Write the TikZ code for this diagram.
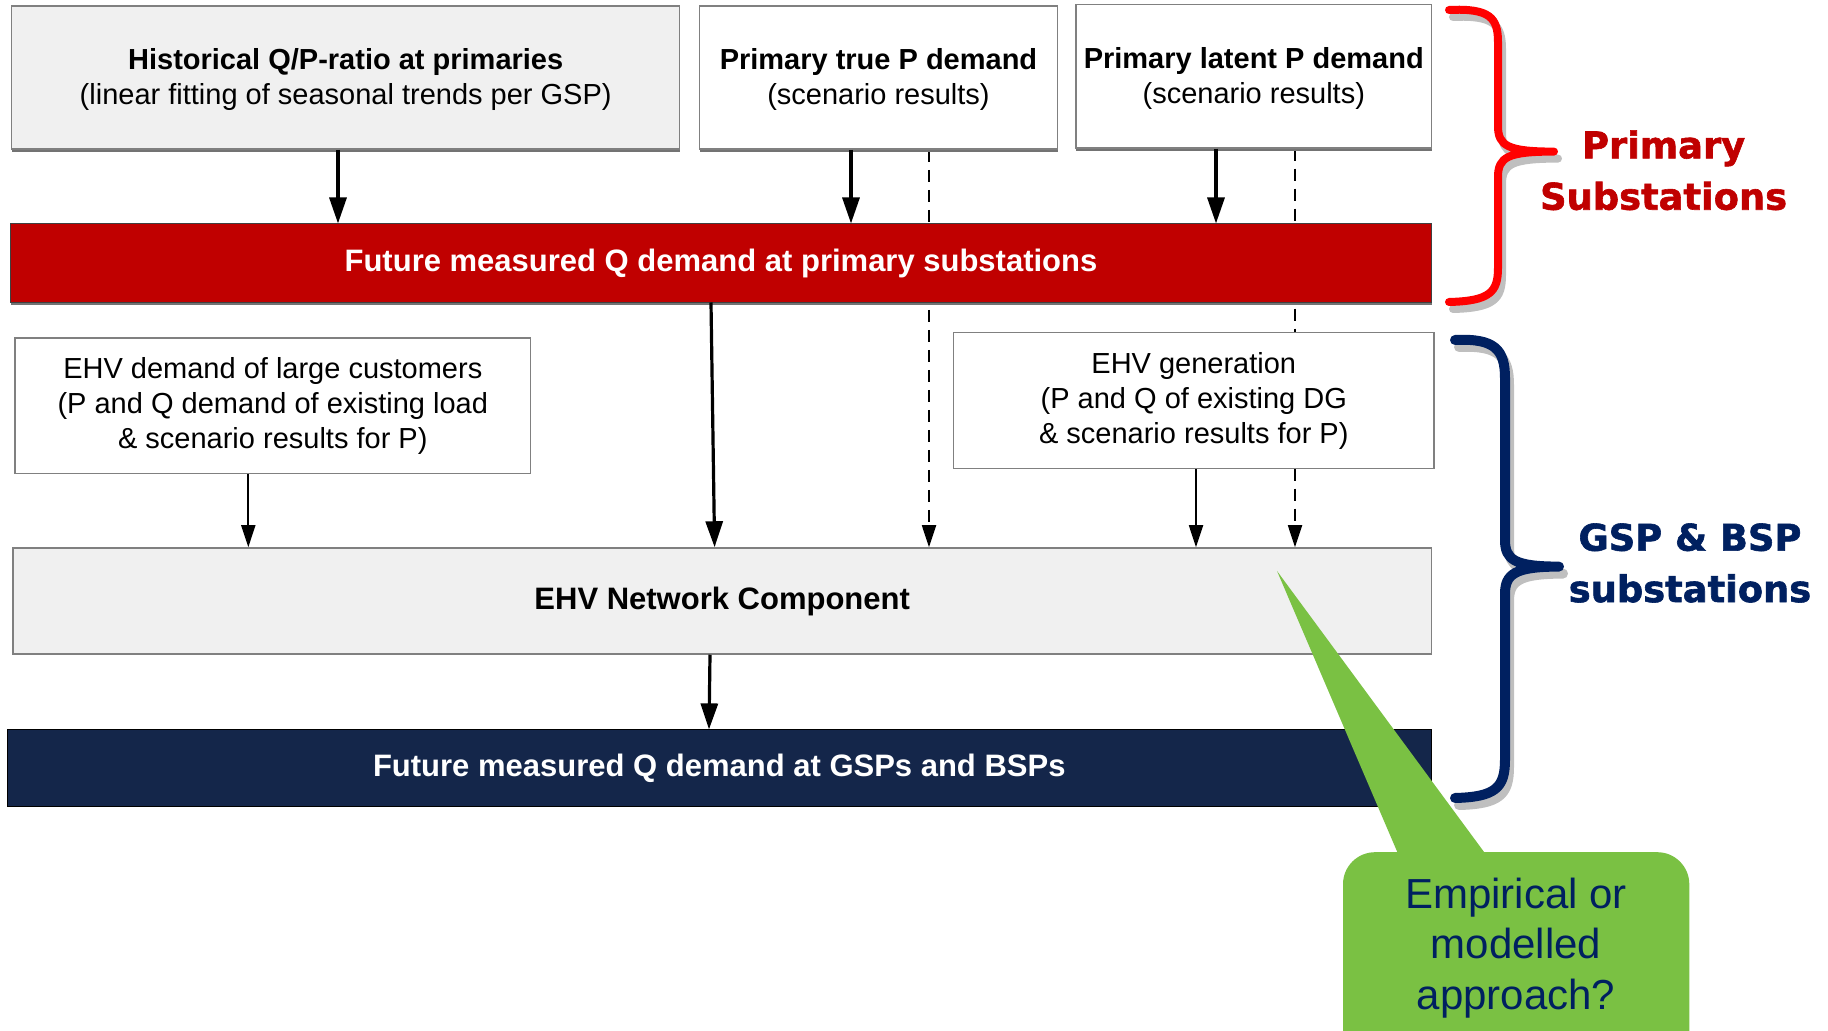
\documentclass[tikz,border=0pt]{standalone}
\usepackage{fontspec}
\setmainfont{Liberation Sans}
\newfontfamily\widefont[FakeBold=1.6]{DejaVu Sans Bold}
\usetikzlibrary{arrows.meta,backgrounds,shadows}
\definecolor{boxgray}{HTML}{F0F0F0}
\definecolor{edgegray}{HTML}{808080}
\definecolor{barred}{HTML}{C00000}
\definecolor{barnavy}{HTML}{14264A}
\definecolor{navy}{HTML}{002060}
\definecolor{brred}{HTML}{FF0000}
\definecolor{callgreen}{HTML}{7AC143}
\begin{document}
\begin{tikzpicture}[x=0.5pt,y=-0.5pt,
  box/.style={draw=edgegray, line width=0.75pt, inner sep=0pt, align=center,
    font=\fontsize{14.5}{17.5}\selectfont},
  bar/.style={inner sep=0pt, font=\bfseries\fontsize{15.5}{18}\selectfont},
  shad/.style={drop shadow={shadow xshift=0pt, shadow yshift=-1.5pt, fill=black!55, opacity=1}},
  arr/.style={line width=1.6pt, -{Triangle[length=13pt,width=8.5pt]}},
  tarr/.style={line width=0.9pt, -{Triangle[length=11pt,width=7pt]}},
  darr/.style={tarr, dash pattern=on 6pt off 4pt},
  bracetext/.style={align=center, font=\widefont\fontsize{18.4}{25.7}\selectfont}
]
\useasboundingbox (0,0) rectangle (1828,1031);
\clip (0,0) rectangle (1828,1031);

% boxes
\node[box, fill=boxgray, shad, minimum width=334pt, minimum height=71.7pt] (hist) at (345.7,77.5)
  {\rule{0pt}{13pt}\textbf{Historical Q/P-ratio at primaries}\\(linear fitting of seasonal trends per GSP)};
\node[box, fill=white, shad, minimum width=179pt, minimum height=71.7pt] (trueP) at (878.5,77.5)
  {\rule{0pt}{13pt}\textbf{Primary true P demand}\\(scenario results)};
\node[box, fill=white, shad, minimum width=177.8pt, minimum height=71.7pt] (latentP) at (1253.8,76.3)
  {\rule{0pt}{13pt}\textbf{Primary latent P demand}\\(scenario results)};
\node[bar, draw=black!75, fill=barred, text=white, shad, minimum width=710.5pt, minimum height=39.1pt] (red) at (721,263)
  {Future measured Q demand at primary substations};
\node[box, fill=white, minimum width=257.6pt, minimum height=67.6pt] (ehvd) at (272.8,405.7)
  {EHV demand of large customers\\(P and Q demand of existing load\\\& scenario results for P)};
\node[box, fill=white, minimum width=240.2pt, minimum height=68.2pt] (ehvg) at (1193.8,400.5)
  {EHV generation\\(P and Q of existing DG\\\& scenario results for P)};
\node[bar, draw=edgegray, line width=0.75pt, fill=boxgray, text=black, minimum width=709.4pt, minimum height=53pt] (net) at (722.2,601)
  {EHV Network Component};
\node[bar, draw=black, fill=barnavy, text=white, minimum width=712.3pt, minimum height=38.5pt] (gsp) at (719.3,768.3)
  {Future measured Q demand at GSPs and BSPs};

% helper x positions
\coordinate (c1) at (338,0);
\coordinate (c2) at (851,0);
\coordinate (c3) at (1216,0);
\coordinate (d1) at (929,0);
\coordinate (d2) at (1295,0);
\coordinate (r1) at (711,0);
\coordinate (r2) at (714.6,0);
\coordinate (e1) at (248.3,0);
\coordinate (e2) at (1196,0);
\coordinate (n1) at (710,0);
\coordinate (n2) at (709,0);

\begin{pgfonlayer}{background}
\draw[darr] (trueP.south -| d1) -- (net.north -| d1);
\draw[darr] (latentP.south -| d2) -- (net.north -| d2);
\end{pgfonlayer}

\draw[arr] (hist.south -| c1) -- (red.north -| c1);
\draw[arr] (trueP.south -| c2) -- (red.north -| c2);
\draw[arr] (latentP.south -| c3) -- (red.north -| c3);
\draw[arr] (red.south -| r1) -- (net.north -| r2);
\draw[tarr] (ehvd.south -| e1) -- (net.north -| e1);
\draw[tarr] (ehvg.south -| e2) -- (net.north -| e2);
\draw[arr] (net.south -| n1) -- (gsp.north -| n2);

% braces (shadow first)
\draw[black, opacity=0.25, line width=4pt, line cap=round, line join=round, shift={(4,7)}]
  (1449,10) .. controls (1490,8) and (1498,18) .. (1498,42) -- (1498,126)
  .. controls (1498,146) and (1508,151.6) .. (1554,151.6)
  .. controls (1508,151.6) and (1498,157) .. (1498,177) -- (1498,268)
  .. controls (1498,292) and (1490,301) .. (1449,302);
\draw[brred, line width=4pt, line cap=round, line join=round]
  (1449,10) .. controls (1490,8) and (1498,18) .. (1498,42) -- (1498,126)
  .. controls (1498,146) and (1508,151.6) .. (1554,151.6)
  .. controls (1508,151.6) and (1498,157) .. (1498,177) -- (1498,268)
  .. controls (1498,292) and (1490,301) .. (1449,302);
\draw[black, opacity=0.25, line width=5pt, line cap=round, line join=round, shift={(4,7)}]
  (1455,340) .. controls (1495,338) and (1505,350) .. (1505,378) -- (1505,540)
  .. controls (1505,560) and (1515,566.6) .. (1559,566.6)
  .. controls (1515,566.6) and (1505,574) .. (1505,594) -- (1505,760)
  .. controls (1505,788) and (1495,797) .. (1455,798);
\draw[navy, line width=5pt, line cap=round, line join=round]
  (1455,340) .. controls (1495,338) and (1505,350) .. (1505,378) -- (1505,540)
  .. controls (1505,560) and (1515,566.6) .. (1559,566.6)
  .. controls (1515,566.6) and (1505,574) .. (1505,594) -- (1505,760)
  .. controls (1505,788) and (1495,797) .. (1455,798);

\node[bracetext, text=barred] (ptext) at (1663.6,170.3) {Primary\\Substations};
\node[bracetext, text=navy] (gtext) at (1690,563) {GSP \& BSP\\substations};

% callout
\fill[callgreen] (1277,571) -- (1399,856) -- (1487,856) -- cycle;
\fill[callgreen, rounded corners=16pt] (1343,852.2) rectangle (1689.3,1090);
\node[align=center, text=navy, font=\fontsize{21}{25.4}\selectfont] (callout) at (1516,948)
  {Empirical or\\modelled\\approach?};
\end{tikzpicture}
\end{document}
